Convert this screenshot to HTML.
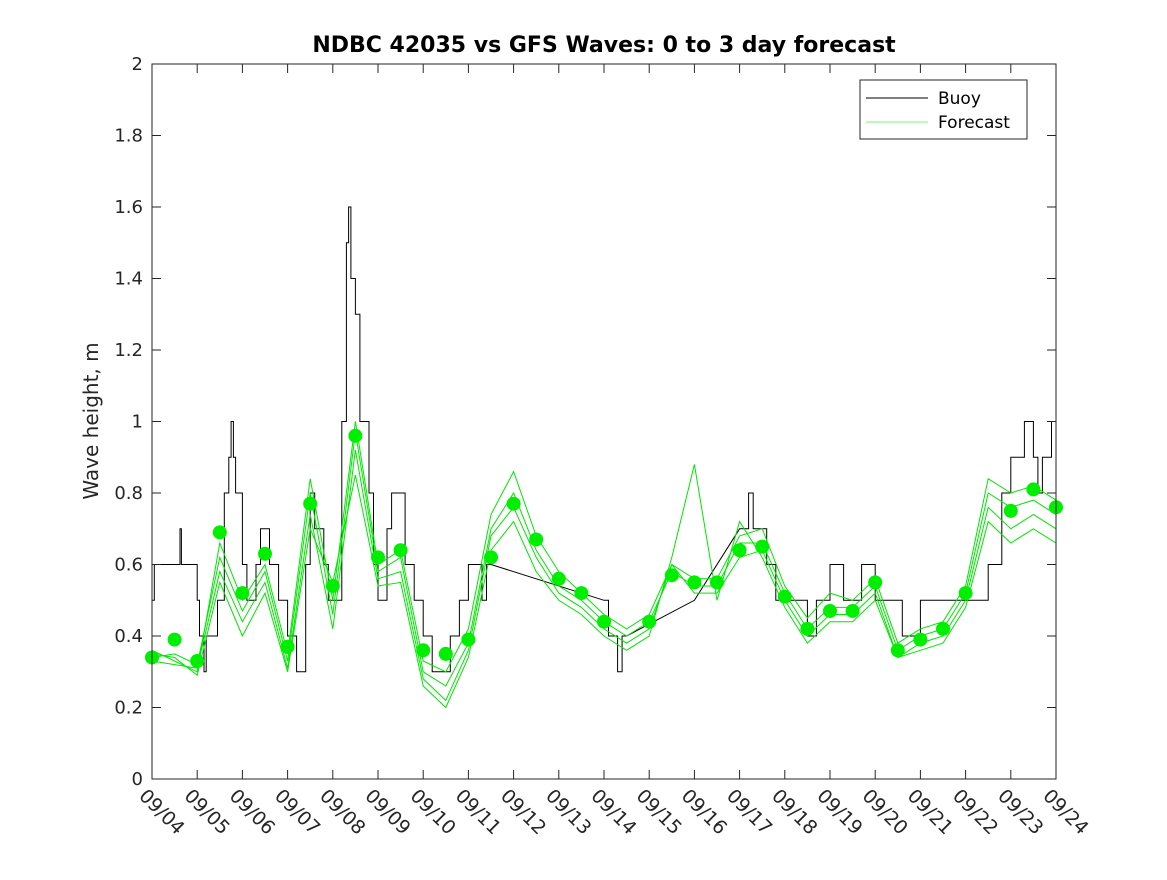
<!DOCTYPE html>
<html><head><meta charset="utf-8"><style>
body{margin:0;background:#fff;}
svg text{font-family:"DejaVu Sans","Liberation Sans",sans-serif;}
</style></head><body>
<svg id="chart" width="1167" height="875" xmlns="http://www.w3.org/2000/svg">
<rect width="1167" height="875" fill="#fff"/>
<text x="604" y="52" text-anchor="middle" font-size="22" font-weight="bold" fill="#000">NDBC 42035 vs GFS Waves: 0 to 3 day forecast</text>
<text transform="translate(98,421) rotate(-90)" text-anchor="middle" font-size="20" fill="#262626">Wave height, m</text>
<g id="grid"></g>
<g id="series"></g>
<rect x="152" y="64" width="904" height="715" fill="none" stroke="#262626" stroke-width="1"/>
<g id="axes"></g>
<g>
<rect x="860" y="80" width="167" height="59" fill="#fff" stroke="#262626"/>
<line x1="866" y1="98" x2="928" y2="98" stroke="#000"/>
<text x="938" y="104" font-size="17" fill="#000">Buoy</text>
<line x1="866" y1="122" x2="928" y2="122" stroke="#00e600" stroke-width="0.6"/>
<text x="938" y="128" font-size="17" fill="#000">Forecast</text>
</g>
</svg>
<script>
const dayLabels=["09/04","09/05","09/06","09/07","09/08","09/09","09/10","09/11","09/12","09/13","09/14","09/15","09/16","09/17","09/18","09/19","09/20","09/21","09/22","09/23","09/24"];
const yTicks=[0,0.2,0.4,0.6,0.8,1,1.2,1.4,1.6,1.8,2];
const dotValues=[0.34,0.39,0.33,0.69,0.52,0.63,0.37,0.77,0.54,0.96,0.62,0.64,0.36,0.35,0.39,0.62,0.77,0.67,0.56,0.52,0.44,null,0.44,0.57,0.55,0.55,0.64,0.65,0.51,0.42,0.47,0.47,0.55,0.36,0.39,0.42,0.52,null,0.75,0.81,0.76];
const buoyDays=[0,0.05,0.6,0.62,0.65,0.7,0.9,1.0,1.05,1.1,1.15,1.2,1.4,1.45,1.6,1.7,1.75,1.8,1.85,2.0,2.1,2.3,2.4,2.6,2.8,3.0,3.2,3.4,3.5,3.6,3.8,3.9,4.0,4.2,4.3,4.35,4.4,4.5,4.6,4.8,4.9,5.0,5.2,5.3,5.5,5.6,5.8,6.0,6.2,6.4,6.6,6.8,7.0,7.2,7.3,7.4,7.5,10.0,10.1,10.2,10.3,10.4,10.5,12.0,13.0,13.2,13.3,13.5,13.6,13.8,14.0,14.3,14.5,14.7,15.0,15.3,15.5,15.7,16.0,16.5,16.6,17.0,17.9,18.0,18.5,18.8,19.0,19.3,19.5,19.6,19.7,19.9,20.0];
const buoyValues=[0.5,0.6,0.6,0.7,0.6,0.6,0.6,0.5,0.4,0.4,0.3,0.4,0.4,0.5,0.8,0.9,1.0,0.9,0.8,0.6,0.5,0.6,0.7,0.6,0.5,0.4,0.3,0.6,0.8,0.7,0.6,0.5,0.5,1.0,1.5,1.6,1.4,1.3,1.0,0.8,0.6,0.5,0.7,0.8,0.8,0.6,0.5,0.4,0.3,0.3,0.4,0.5,0.6,0.6,0.5,0.6,0.6,0.5,0.4,0.4,0.3,0.4,0.4,0.5,0.7,0.8,0.7,0.7,0.6,0.5,0.5,0.5,0.4,0.5,0.6,0.5,0.5,0.6,0.5,0.5,0.4,0.5,0.5,0.5,0.6,0.8,0.9,1.0,0.9,0.8,0.9,1.0,0.9];
const forecastA=[0.36,0.33,0.30,0.66,0.50,0.60,0.35,0.84,0.50,1.00,0.60,0.64,0.33,0.30,0.42,0.74,0.86,0.68,0.58,0.52,0.46,0.42,0.46,0.60,0.56,0.56,0.68,0.70,0.54,0.45,0.52,0.50,0.56,0.38,0.42,0.44,0.54,0.84,0.80,0.82,0.78];
const forecastB=[0.34,0.35,0.32,0.62,0.47,0.58,0.33,0.80,0.46,0.97,0.58,0.62,0.30,0.26,0.38,0.70,0.80,0.64,0.54,0.50,0.44,0.40,0.44,0.58,0.54,0.54,0.66,0.66,0.52,0.42,0.48,0.48,0.54,0.36,0.40,0.42,0.52,0.80,0.76,0.78,0.74];
const forecastC=[0.33,0.32,0.31,0.58,0.44,0.55,0.31,0.74,0.42,0.92,0.56,0.58,0.28,0.22,0.36,0.68,0.76,0.62,0.52,0.48,0.42,0.38,0.42,0.60,0.52,0.52,0.62,0.64,0.50,0.40,0.46,0.46,0.52,0.34,0.38,0.40,0.50,0.76,0.70,0.74,0.70];
const forecastD=[0.35,0.34,0.29,0.55,0.40,0.52,0.30,0.70,0.55,0.85,0.54,0.55,0.26,0.20,0.34,0.64,0.72,0.58,0.50,0.46,0.40,0.36,0.40,0.62,0.88,0.50,0.72,0.62,0.48,0.38,0.44,0.44,0.50,0.34,0.36,0.38,0.48,0.72,0.66,0.70,0.66];
const forecasts=[forecastA,forecastB,forecastC,forecastD];

const NS="http://www.w3.org/2000/svg";
const X0=152,X1=1056,Y0=779,Y1=64;
const xs=d=>X0+(X1-X0)*d/20;
const ys=v=>Y0-(Y0-Y1)*v/2;
function mk(tag,attrs,parent){const e=document.createElementNS(NS,tag);for(const k in attrs)e.setAttribute(k,attrs[k]);parent.appendChild(e);return e;}
const axes=document.getElementById('axes'),series=document.getElementById('series');
dayLabels.forEach((lab,i)=>{
  const x=xs(i);
  const t1=mk('line',{x1:x,y1:Y0,x2:x,y2:Y0-9,stroke:'#262626'},axes);
  
  
  const t2=mk('line',{x1:x,y1:Y1,x2:x,y2:Y1+9,stroke:'#262626'},axes);
  
  
  const tx=mk('text',{transform:`translate(${x-14},${Y0+18}) rotate(45)`,'font-size':'19',fill:'#262626'},axes);
  tx.textContent=lab;
  
  
});
yTicks.forEach(v=>{
  const y=ys(v);
  const t1=mk('line',{x1:X0,y1:y,x2:X0+9,y2:y,stroke:'#262626'},axes);
  
  
  const t2=mk('line',{x1:X1,y1:y,x2:X1-9,y2:y,stroke:'#262626'},axes);
  
  
  const tx=mk('text',{x:X0-9,y:y+6,'text-anchor':'end','font-size':'18',fill:'#262626'},axes);
  tx.textContent=String(v);
  
  
});
let bp=[];
buoyDays.forEach((d,i)=>{const x=xs(d),y=ys(buoyValues[i]);if(i>0&&buoyDays[i]-buoyDays[i-1]<1)bp.push(x.toFixed(1)+','+ys(buoyValues[i-1]).toFixed(1));bp.push(x.toFixed(1)+','+y.toFixed(1));});
const bl=mk('polyline',{points:bp.join(' '),fill:'none',stroke:'#000','stroke-width':'1'},series);


forecasts.forEach(arr=>{
  const pts=arr.map((v,i)=>xs(i*0.5).toFixed(1)+','+ys(v).toFixed(1)).join(' ');
  const pl=mk('polyline',{points:pts,fill:'none',stroke:'#00e600','stroke-width':'1'},series);
  
  
});
dotValues.forEach((v,i)=>{
  if(v===null)return;
  const c=mk('circle',{cx:xs(i*0.5),cy:ys(v),r:7,fill:'#00ee00'},series);
  
  
});
</script>
</body></html>
